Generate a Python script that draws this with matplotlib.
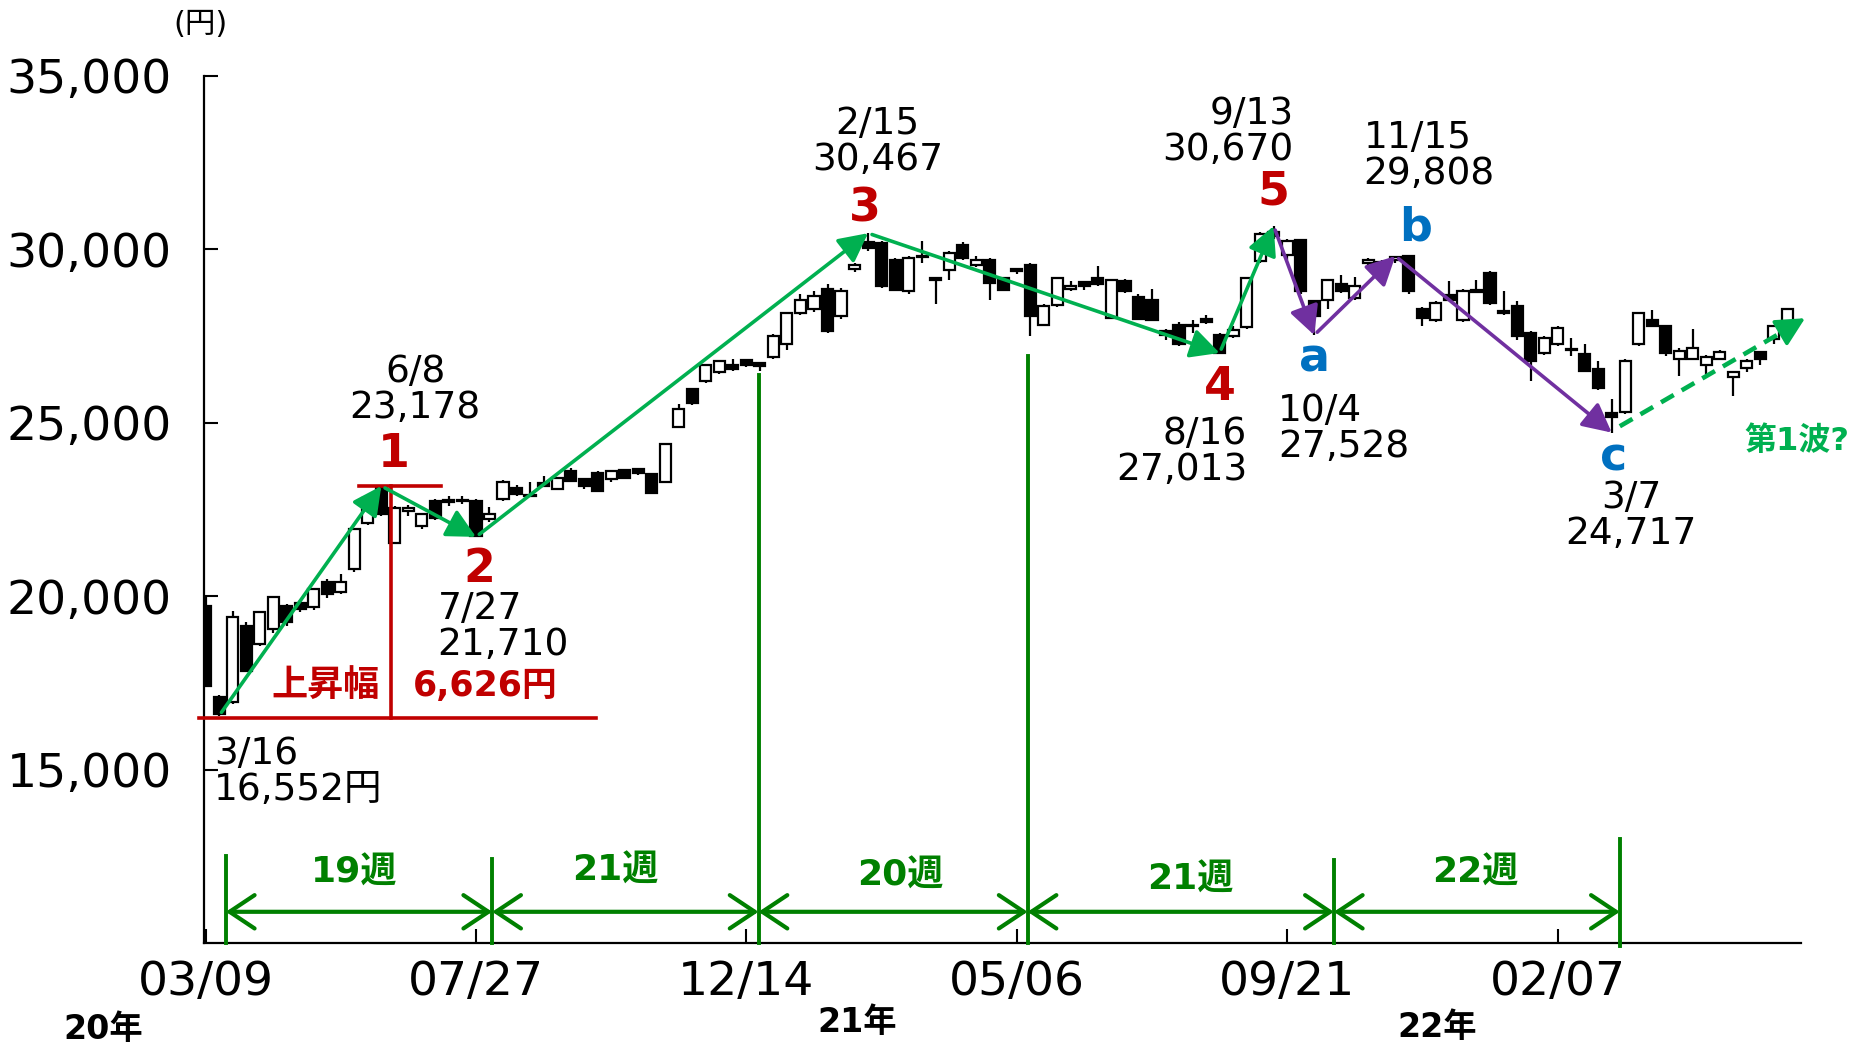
import matplotlib
matplotlib.use('Agg')
import matplotlib.pyplot as plt
import numpy as np

# weekly candles, 2020-03-09 .. 2022-06-06 (index 0 = week of 03/09)
opens = [19722, 17084, 16940, 19147, 18619, 19051, 19722, 19818, 19693, 20413,
         20125, 20778, 22104, 23131, 21520, 22470, 22026, 22748, 22720, 22750,
         22748, 22219, 22796, 23131, 22900, 23250, 23083, 23611, 23371, 23563,
         23371, 23640, 23678, 23515, 23292, 24877, 25961, 26201, 26472, 26680,
         26800, 26730, 26902, 27277, 28170, 28285, 28870, 28093, 29420, 30200,
         30186, 29705, 28792, 29780, 29178, 29417, 30137, 29561, 29686, 29178,
         29420, 29561, 27832, 28409, 28860, 29050, 29178, 28024, 29082, 28630,
         28550, 27640, 27833, 27780, 27997, 27545, 27516, 27767, 29658, 30491,
         29849, 30261, 28505, 28553, 29014, 28602, 29610, 29620, 29700, 29800,
         28294, 27978, 28697, 27978, 28780, 29321, 28220, 28360, 27593, 27018,
         27258, 27100, 26970, 26537, 25270, 25308, 27286, 27977, 27785, 26826,
         26845, 26653, 26826, 26327, 26586, 27036, 27402, 27900]
highs = [20030, 17150, 19560, 19250, 19560, 20000, 19780, 19900, 20250, 20500,
         20635, 21960, 22900, 23178, 22600, 22620, 22400, 22800, 22900, 22880,
         22800, 22585, 23350, 23200, 23290, 23480, 23450, 23700, 23420, 23600,
         23650, 23680, 23700, 23550, 24400, 25529, 26000, 26700, 26800, 26826,
         26850, 26760, 27550, 28200, 28700, 28792, 29000, 28900, 29600, 30467,
         30250, 29750, 29800, 30232, 29200, 29950, 30200, 29800, 29750, 29200,
         29450, 29600, 28434, 29200, 29082, 29100, 29530, 29150, 29150, 28700,
         28850, 27700, 27900, 27977, 28100, 27600, 27800, 29200, 30500, 30670,
         30300, 30300, 28550, 29150, 29272, 29200, 29750, 29700, 29808, 29808,
         28350, 28500, 29080, 28850, 29110, 29390, 28792, 28500, 27650, 27500,
         27800, 27450, 27258, 26780, 25674, 26850, 28200, 28265, 27800, 27150,
         27700, 26950, 27100, 26500, 26850, 27080, 27800, 28320]
lows = [17400, 16552, 16900, 17800, 18550, 18950, 19150, 19550, 19600, 19950,
        20050, 20700, 22050, 22300, 21500, 22300, 21950, 22200, 22600, 22650,
        21710, 22150, 22750, 22900, 22880, 23150, 23050, 23300, 23100, 23000,
        23300, 23380, 23500, 22950, 23250, 24850, 25500, 26150, 26400, 26500,
        26600, 26490, 26850, 27100, 28100, 28200, 27600, 28000, 29350, 29950,
        28900, 28800, 28700, 29610, 28430, 29130, 29700, 29500, 28553, 28800,
        29300, 27496, 27800, 28350, 28800, 28840, 28950, 28000, 28750, 27950,
        27950, 27400, 27200, 27593, 27850, 27013, 27450, 27700, 29600, 30300,
        29700, 28700, 27528, 28270, 28750, 28550, 29500, 29130, 29600, 28700,
        27785, 27900, 28500, 27900, 28745, 28400, 28120, 27400, 26201, 26950,
        27200, 26920, 26450, 25950, 24717, 25250, 27200, 27750, 26920, 26345,
        26800, 26412, 26800, 25770, 26460, 26653, 27286, 27850]
closes = [17418, 16604, 19388, 17851, 19532, 19964, 19244, 19626, 20203, 20059,
          20396, 21930, 22843, 22363, 22555, 22540, 22363, 22267, 22780, 22770,
          21722, 22363, 23292, 22939, 22930, 23170, 23419, 23323, 23178, 23034,
          23611, 23419, 23563, 22987, 24378, 25385, 25558, 26653, 26778, 26538,
          26680, 26630, 27496, 28170, 28553, 28668, 27641, 28812, 29562, 30050,
          28956, 28841, 29753, 29820, 29110, 29897, 29753, 29686, 29034, 28841,
          29368, 28072, 28360, 29178, 28956, 28950, 29014, 29130, 28792, 28000,
          27978, 27545, 27258, 27820, 27920, 27018, 27670, 29178, 30444, 30396,
          30232, 28792, 28072, 29110, 28792, 28937, 29686, 29640, 29780, 28792,
          28024, 28457, 28533, 28792, 28820, 28457, 28170, 27496, 26776, 27450,
          27737, 27130, 26489, 26011, 25175, 26777, 28170, 27785, 27018, 27065,
          27162, 26903, 27036, 26460, 26777, 26826, 27785, 28285]

tick_weeks = [0, 20, 40, 60, 80, 100]
tick_labels = ['03/09', '07/27', '12/14', '05/06', '09/21', '02/07']
y_ticks = [15000, 20000, 25000, 30000, 35000]

# Elliott wave turning points (week index, price)
wave_idx = [1, 13, 20, 49, 75, 79]
wave_val = [16552, 23178, 21710, 30467, 27013, 30670]
abc_idx = [79, 82, 88, 104]
abc_val = [30670, 27528, 29808, 24717]

# week-count brackets
bracket_x = [1.5, 21.2, 40.9, 60.8, 83.45, 104.6]
bracket_top = [12500, 12430, 26365, 26920, 12390, 12990]
bracket_labels = ['19週', '21週', '20週', '21週', '22週']
bracket_label_pos = [(11.0, 12030), (30.3, 12100), (51.4, 11930), (72.8, 11820), (93.9, 12030)]

GREEN = '#00B050'
DKGREEN = '#008000'
PURPLE = '#7030A0'
RED = '#C00000'
BLUE = '#0070C0'
JP = ['DejaVu Sans', 'Noto Sans CJK JP']

fig = plt.figure(figsize=(18.64, 10.45), dpi=100)
ax = fig.add_axes([0.1094, 0.0976, 0.8568, 0.8297])

x = np.arange(len(opens))
o = np.array(opens)
c = np.array(closes)
up = c >= o
body_h = np.maximum(np.abs(c - o), 30)
ax.vlines(x, lows, highs, color='black', lw=1.6, zorder=2)
ax.bar(x, body_h, bottom=np.minimum(o, c), width=0.82,
       color=np.where(up, 'white', 'black'), edgecolor='black',
       linewidth=1.6, zorder=3)

ax.set_xlim(-0.12, 118)
ax.set_ylim(10000, 35000)
for s in ['top', 'right']:
    ax.spines[s].set_visible(False)
for s in ['left', 'bottom']:
    ax.spines[s].set_linewidth(1.6)
ax.set_xticks(tick_weeks)
ax.set_xticklabels(tick_labels)
ax.set_yticks(y_ticks)
ax.set_yticklabels([f'{v:,}' for v in y_ticks])
ax.tick_params(axis='x', direction='in', length=10, width=1.5, pad=12, labelsize=34)
ax.tick_params(axis='y', direction='in', length=10, width=1.5, pad=23, labelsize=34)

# wave arrows
def arrow(p0, p1, color, lw=2.6):
    ax.annotate('', xy=p1, xytext=p0, zorder=6,
                arrowprops=dict(arrowstyle='-|>,head_length=0.55,head_width=0.28',
                                color=color, lw=lw, mutation_scale=32,
                                shrinkA=3, shrinkB=0))

for i in range(len(wave_idx) - 1):
    arrow((wave_idx[i], wave_val[i]), (wave_idx[i + 1], wave_val[i + 1]), GREEN)
for i in range(len(abc_idx) - 1):
    arrow((abc_idx[i], abc_val[i]), (abc_idx[i + 1], abc_val[i + 1]), PURPLE)

# dashed "wave 1?" projection
ax.plot([104.6, 117.2], [24900, 27750], ls=(0, (3.2, 2)), lw=3.3,
        color=GREEN, zorder=6, clip_on=False)
ax.annotate('', xy=(118.3, 28015), xytext=(117.0, 27717), zorder=6,
            annotation_clip=False,
            arrowprops=dict(arrowstyle='-|>,head_length=0.55,head_width=0.28',
                            color=GREEN, lw=2.6, mutation_scale=32,
                            shrinkA=0, shrinkB=0))

# rise width markers
ax.plot([11.35, 17.45], [23178, 23178], color=RED, lw=2.6, zorder=5)
ax.plot([13.75, 13.75], [23178, 16500], color=RED, lw=2.6, zorder=5)
ax.plot([-0.45, 28.9], [16500, 16500], color=RED, lw=2.6, zorder=5, clip_on=False)
ax.text(8.9, 17400, '上昇幅', color=RED, fontsize=26, fontweight='bold',
        family=JP, ha='center', va='center')
ax.text(20.7, 17400, '6,626円', color=RED, fontsize=25, fontweight='bold',
        family=JP, ha='center', va='center')

# week brackets
for bx, bt in zip(bracket_x, bracket_top):
    ax.plot([bx, bx], [bt, 9900 if bx > 100 else 10000], color=DKGREEN,
            lw=2.8, zorder=5, clip_on=False)
for i in range(len(bracket_x) - 1):
    ax.annotate('', xy=(bracket_x[i + 1], 10900), xytext=(bracket_x[i], 10900),
                arrowprops=dict(arrowstyle='<->,head_length=0.6,head_width=0.4',
                                color=DKGREEN, lw=3, mutation_scale=30,
                                shrinkA=0, shrinkB=0))
for lab, (lx, ly) in zip(bracket_labels, bracket_label_pos):
    ax.text(lx, ly, lab, color=DKGREEN, fontsize=26, fontweight='bold',
            family=JP, ha='center', va='center')

# price labels
price_notes = [
    (0.62, 14940, '3/16\n16,552円', 'left'),
    (15.5, 25945, '6/8\n23,178', 'center'),
    (17.16, 19115, '7/27\n21,710', 'left'),
    (49.7, 33100, '2/15\n30,467', 'center'),
    (77.04, 24165, '8/16\n27,013', 'right'),
    (80.47, 33390, '9/13\n30,670', 'right'),
    (79.33, 24815, '10/4\n27,528', 'left'),
    (85.66, 32690, '11/15\n29,808', 'left'),
    (105.45, 22300, '3/7\n24,717', 'center'),
]
for px, py, txt, ha in price_notes:
    ax.text(px, py, txt, fontsize=27, family=JP, ha=ha, va='center',
            linespacing=1.0, zorder=7)

wave_labels = [('1', 13.9, 24080, RED), ('2', 20.23, 20760, RED),
               ('3', 48.73, 31170, RED), ('4', 75.02, 26030, RED),
               ('5', 78.97, 31645, RED), ('a', 82.05, 26850, BLUE),
               ('b', 89.53, 30620, BLUE), ('c', 104.13, 23980, BLUE)]
for t, px, py, col in wave_labels:
    ax.text(px, py, t, color=col, fontsize=33, fontweight='bold',
            ha='center', va='center', zorder=7)

ax.text(117.7, 24460, '第1波?', color=GREEN, fontsize=23, fontweight='bold',
        family=JP, ha='center', va='center', clip_on=False)

fig.text(0.1073, 0.977, '(円)', fontsize=22, family=JP, ha='center', va='center')
fig.text(0.0555, 0.0146, '20年', fontsize=24, fontweight='bold', family=JP,
         ha='center', va='center')
fig.text(0.4599, 0.0215, '21年', fontsize=24, fontweight='bold', family=JP,
         ha='center', va='center')
fig.text(0.7712, 0.0169, '22年', fontsize=24, fontweight='bold', family=JP,
         ha='center', va='center')

fig.savefig('out.png', dpi=100, facecolor='white')
